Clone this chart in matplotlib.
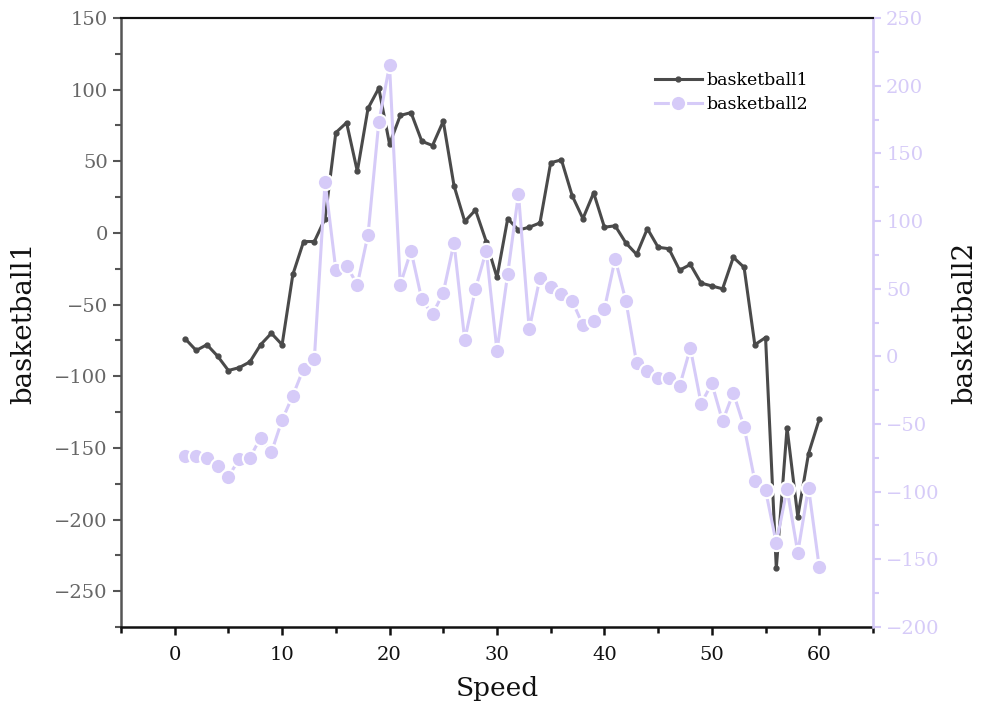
import matplotlib
matplotlib.use("Agg")
import matplotlib.pyplot as plt
from matplotlib.ticker import MultipleLocator

plt.rcParams['font.family'] = ['DejaVu Serif']
plt.rcParams['axes.unicode_minus'] = True

speed = list(range(1, 61))
basketball1 = [-74, -82, -78, -86, -96, -94, -90, -78, -70, -78,
               -29, -6, -6, 10, 70, 77, 43, 87, 101, 62,
               82, 84, 64, 61, 78, 33, 8, 16, -6, -31,
               10, 2, 4, 7, 49, 51, 26, 10, 28, 4,
               5, -7, -15, 3, -10, -11, -26, -22, -35, -37,
               -39, -17, -24, -78, -73, -234, -136, -198, -154, -130]
basketball2 = [-74, -74, -75, -81, -89, -76, -75, -60, -71, -47,
               -29, -9, -2, 129, 64, 67, 53, 90, 173, 215,
               53, 78, 42, 31, 47, 84, 12, 50, 78, 4,
               61, 120, 20, 58, 51, 46, 41, 23, 26, 35,
               72, 41, -5, -11, -16, -16, -22, 6, -35, -20,
               -48, -27, -52, -92, -99, -138, -98, -145, -97, -156]

c1 = '#4a4a4a'
c2 = '#d6cbf8'

fig = plt.figure(figsize=(9.81, 7.15), dpi=100)
ax1 = fig.add_axes([0.1233, 0.1231, 0.7666, 0.8517])
ax2 = ax1.twinx()

l1, = ax1.plot(speed, basketball1, color=c1, lw=2.2, marker='o', ms=3.5,
               mec=c1, label='basketball1', zorder=2)
l2, = ax2.plot(speed, basketball2, color=c2, lw=2.2, marker='o', ms=11,
               mec='white', mew=1.5, label='basketball2', zorder=2)

ax1.set_xlim(-5, 65)
ax1.set_ylim(-275, 150)
ax2.set_ylim(-200, 250)

ax1.xaxis.set_major_locator(MultipleLocator(10))
ax1.xaxis.set_minor_locator(MultipleLocator(5))
ax1.yaxis.set_major_locator(MultipleLocator(50))
ax1.yaxis.set_minor_locator(MultipleLocator(25))
ax2.yaxis.set_major_locator(MultipleLocator(50))
ax2.yaxis.set_minor_locator(MultipleLocator(25))

lab_size = 14
ax1.tick_params(axis='x', which='major', direction='out', length=6, width=1.8,
                colors='#111111', labelsize=lab_size, pad=8)
ax1.tick_params(axis='x', which='minor', direction='out', length=4, width=1.8,
                colors='#111111')
ax1.tick_params(axis='y', which='major', direction='out', length=6, width=1.5,
                colors='#555555', labelsize=lab_size, labelcolor='#666666')
ax1.tick_params(axis='y', which='minor', direction='out', length=4, width=1.5,
                colors='#555555')
ax2.tick_params(axis='y', which='major', direction='out', length=6, width=1.5,
                colors=c2, labelsize=lab_size)
ax2.tick_params(axis='y', which='minor', direction='out', length=4, width=1.5,
                colors=c2)

ax1.spines['left'].set_color('#555555')
ax1.spines['left'].set_linewidth(1.8)
ax1.spines['bottom'].set_color('#111111')
ax1.spines['bottom'].set_linewidth(1.8)
ax1.spines['top'].set_color('#111111')
ax1.spines['top'].set_linewidth(1.5)
ax2.spines['right'].set_color(c2)
ax2.spines['right'].set_linewidth(1.8)
ax2.spines['left'].set_visible(False)
ax2.spines['bottom'].set_visible(False)
ax2.spines['top'].set_color('#111111')
ax2.spines['top'].set_linewidth(1.5)

ax1.set_xlabel('Speed', fontsize=19, color='#111111', labelpad=8)
ax1.set_ylabel('basketball1', fontsize=20, color='#111111', labelpad=12)
ax2.set_ylabel('basketball2', fontsize=20, color='#111111', labelpad=8)

ax2.legend([l1, l2], ['basketball1', 'basketball2'], loc='upper left',
           bbox_to_anchor=(0.71, 0.912), frameon=False, fontsize=12.5,
           borderpad=0, borderaxespad=0,
           handlelength=2.7, handletextpad=0.3, labelspacing=0.45)

fig.savefig('out.png', dpi=100)
